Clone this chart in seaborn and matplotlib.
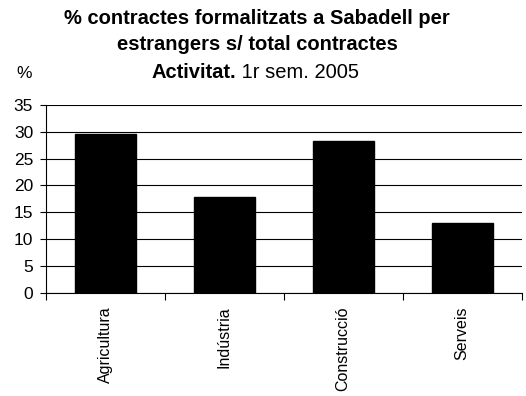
import pandas as pd
import seaborn as sns
import matplotlib.pyplot as plt
from matplotlib.ticker import FixedLocator

# data
categories = ["Agricultura", "Indústria", "Construcció", "Serveis"]
values = [29.6, 17.9, 28.2, 12.9]
yticks = [0, 5, 10, 15, 20, 25, 30, 35]

df = pd.DataFrame({"activitat": categories, "pct": values})

sns.set_style("white")
plt.rcParams["font.family"] = ["Liberation Sans", "DejaVu Sans"]
plt.rcParams["text.color"] = "black"
plt.rcParams["xtick.color"] = "black"
plt.rcParams["ytick.color"] = "black"

fig = plt.figure(figsize=(5.26, 3.96), dpi=100)
ax = fig.add_axes([0.0868, 0.261, 0.905, 0.474])

sns.barplot(data=df, x="activitat", y="pct", color="black", edgecolor="black",
            width=0.51, ax=ax, zorder=3)

ax.set_ylim(0, 35)
ax.set_xlim(-0.5, len(categories) - 0.5)
ax.set_yticks(yticks)
ax.yaxis.grid(True, color="black", linewidth=0.8, zorder=0)
ax.set_axisbelow(True)
ax.set_xlabel("")
ax.set_ylabel("")

for side in ["top", "right"]:
    ax.spines[side].set_visible(False)
for side in ["left", "bottom"]:
    ax.spines[side].set_color("black")
    ax.spines[side].set_linewidth(0.8)

ax.tick_params(axis="y", which="major", left=True, length=4, width=0.8,
               labelsize=12.5, pad=5)
ax.tick_params(axis="x", which="major", bottom=False, length=0, labelsize=11.5,
               labelrotation=90, pad=10)
ax.xaxis.set_minor_locator(FixedLocator([i - 0.5 for i in range(len(categories) + 1)]))
ax.tick_params(axis="x", which="minor", bottom=True, length=5, width=0.8)

# titles
fig.text(257 / 526, 1 - 18 / 396, "% contractes formalitzats a Sabadell per",
         ha="center", va="center", fontsize=14.5, fontweight="bold")
fig.text(257 / 526, 1 - 45 / 396, "estrangers s/ total contractes",
         ha="center", va="center", fontsize=14.5, fontweight="bold")
t = fig.text(236 / 526, 1 - 72 / 396, "Activitat.", ha="right", va="center",
             fontsize=14.5, fontweight="bold")
ax.annotate(" 1r sem. 2005", xy=(1, 0), xycoords=t, ha="left", va="bottom",
            fontsize=14.5)
fig.text(24 / 526, 1 - 73 / 396, "%", ha="center", va="center", fontsize=12.5)

fig.savefig("out.png", dpi=100)
